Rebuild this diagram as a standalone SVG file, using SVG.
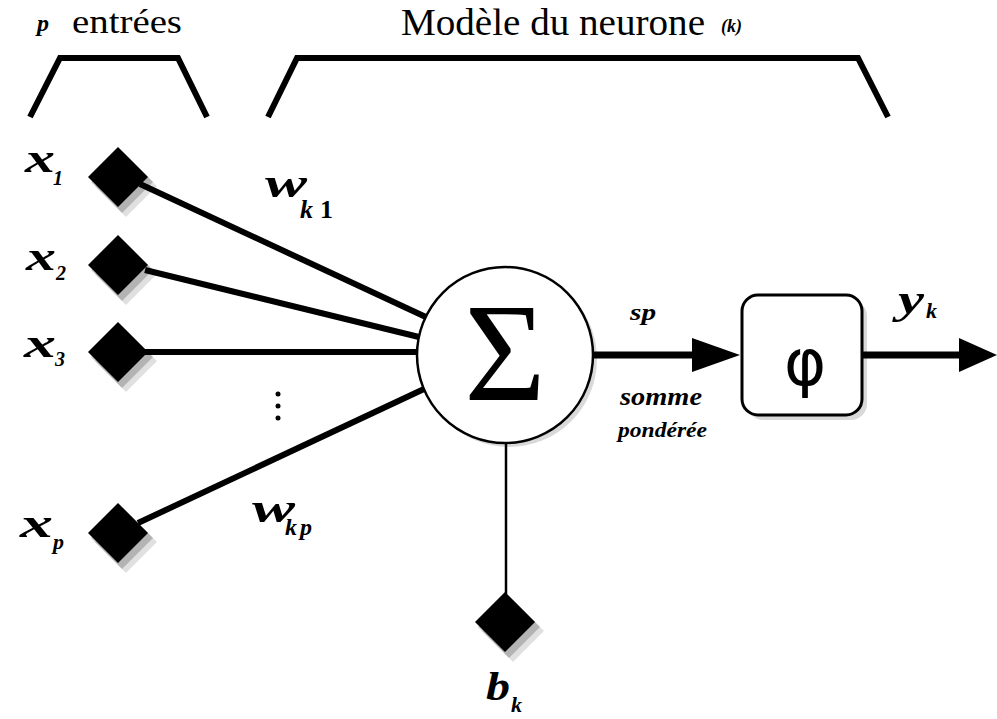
<svg xmlns="http://www.w3.org/2000/svg" width="997" height="719" viewBox="0 0 997 719">
<rect width="997" height="719" fill="#fff"/>
<g id="brackets" fill="none" stroke="#000" stroke-width="6">
<polyline points="30,117 60,58 178,58 207,117"/>
<polyline points="268,117 297,58 858,58 888,117"/>
</g>
<g id="connectors" stroke="#000" stroke-width="6" fill="none">
<line x1="140" y1="184" x2="428" y2="318"/>
<line x1="145" y1="270" x2="419" y2="337"/>
<line x1="140" y1="352" x2="418" y2="352"/>
<line x1="138" y1="523" x2="424" y2="389"/>
<line stroke-width="2.5" x1="506" y1="443" x2="506" y2="595"/>
<line stroke-width="7" x1="593" y1="355" x2="700" y2="355"/>
<polygon points="692,338 740,355 692,372" fill="#000" stroke="none"/>
<line stroke-width="7" x1="862" y1="355" x2="965" y2="355"/>
<polygon points="959,338 997,355 959,372" fill="#000" stroke="none"/>
</g>
<g id="x1">
<polygon points="126,155 157,186 126,217 95,186" fill="#000" opacity="0.12"/>
<polygon points="122,151 153,182 122,213 91,182" fill="#000" opacity="0.2"/>
<polygon points="118,147 148,177 118,207 88,177" fill="#000"/>
</g>
<g id="x2">
<polygon points="126,243 157,274 126,305 95,274" fill="#000" opacity="0.12"/>
<polygon points="122,239 153,270 122,301 91,270" fill="#000" opacity="0.2"/>
<polygon points="118,235 148,265 118,295 88,265" fill="#000"/>
</g>
<g id="x3">
<polygon points="126,330 157,361 126,392 95,361" fill="#000" opacity="0.12"/>
<polygon points="122,326 153,357 122,388 91,357" fill="#000" opacity="0.2"/>
<polygon points="118,322 148,352 118,382 88,352" fill="#000"/>
</g>
<g id="xp">
<polygon points="126,511 157,542 126,573 95,542" fill="#000" opacity="0.12"/>
<polygon points="122,507 153,538 122,569 91,538" fill="#000" opacity="0.2"/>
<polygon points="118,503 148,533 118,563 88,533" fill="#000"/>
</g>
<g id="bk">
<polygon points="513,600 544,631 513,662 482,631" fill="#000" opacity="0.12"/>
<polygon points="509,596 540,627 509,658 478,627" fill="#000" opacity="0.2"/>
<polygon points="505,592 535,622 505,652 475,622" fill="#000"/>
</g>
<g id="sum">
<circle cx="509" cy="359" r="88" fill="#000" opacity="0.15"/>
<circle cx="505" cy="355" r="88" fill="#fff" stroke="#000" stroke-width="2.5"/>
</g>
<g id="phi">
<rect x="747" y="300" width="120" height="120" rx="16" fill="#000" opacity="0.15"/>
<rect x="742" y="295" width="120" height="120" rx="16" fill="#fff" stroke="#000" stroke-width="3"/>
</g>
<g id="dots" fill="#000">
<circle cx="278" cy="394" r="2.5"/><circle cx="278" cy="406" r="2.5"/><circle cx="278" cy="418" r="2.5"/>
</g>
<g font-size="36" fill="#000">
<text x="505" y="400" font-family="Liberation Serif" font-size="140" text-anchor="middle">Σ</text>
<text x="805" y="385" font-family="DejaVu Sans" font-size="64" text-anchor="middle">φ</text>
<text x="37" y="31" font-family="Liberation Serif" font-size="24" font-weight="bold" font-style="italic">p</text>
<text x="72" y="33" font-family="Liberation Serif" font-size="33" textLength="110" lengthAdjust="spacingAndGlyphs">entrées</text>
<text x="401" y="35" font-family="Liberation Serif" font-size="38" textLength="304" lengthAdjust="spacingAndGlyphs">Modèle du neurone</text>
<text x="721" y="32" font-family="Liberation Serif" font-size="18" font-weight="bold" font-style="italic">(k)</text>
<text x="25" y="172" font-family="Liberation Serif" font-weight="bold" font-style="italic" font-size="42" textLength="30" lengthAdjust="spacingAndGlyphs">x</text>
<text x="53" y="185" font-family="Liberation Serif" font-weight="bold" font-style="italic" font-size="20">1</text>
<text x="26" y="270" font-family="Liberation Serif" font-weight="bold" font-style="italic" font-size="42" textLength="30" lengthAdjust="spacingAndGlyphs">x</text>
<text x="56" y="280" font-family="Liberation Serif" font-weight="bold" font-style="italic" font-size="20">2</text>
<text x="24" y="357" font-family="Liberation Serif" font-weight="bold" font-style="italic" font-size="42" textLength="32" lengthAdjust="spacingAndGlyphs">x</text>
<text x="55" y="366" font-family="Liberation Serif" font-weight="bold" font-style="italic" font-size="20">3</text>
<text x="20" y="537" font-family="Liberation Serif" font-weight="bold" font-style="italic" font-size="42" textLength="33" lengthAdjust="spacingAndGlyphs">x</text>
<text x="53" y="549" font-family="Liberation Serif" font-weight="bold" font-style="italic" font-size="22">p</text>
<text x="265" y="197" font-family="Liberation Serif" font-weight="bold" font-style="italic" font-size="42" textLength="42" lengthAdjust="spacingAndGlyphs">w</text>
<text x="300" y="218" font-family="Liberation Serif" font-weight="bold" font-style="italic" font-size="26">k</text>
<text x="320" y="218" font-family="Liberation Serif" font-weight="bold" font-size="26">1</text>
<text x="252" y="522" font-family="Liberation Serif" font-weight="bold" font-style="italic" font-size="42" textLength="43" lengthAdjust="spacingAndGlyphs">w</text>
<text x="285" y="535" font-family="Liberation Serif" font-weight="bold" font-style="italic" font-size="24">k</text>
<text x="300" y="535" font-family="Liberation Serif" font-weight="bold" font-style="italic" font-size="24">p</text>
<text x="898" y="313" font-family="Liberation Serif" font-weight="bold" font-style="italic" font-size="40" textLength="26" lengthAdjust="spacingAndGlyphs">y</text>
<text x="926" y="318" font-family="Liberation Serif" font-weight="bold" font-style="italic" font-size="22">k</text>
<text x="486" y="700" font-family="Liberation Serif" font-weight="bold" font-style="italic" font-size="40" textLength="24" lengthAdjust="spacingAndGlyphs">b</text>
<text x="511" y="712" font-family="Liberation Serif" font-weight="bold" font-style="italic" font-size="22">k</text>
<text x="630" y="320" font-family="Liberation Serif" font-weight="bold" font-style="italic" font-size="24" textLength="26" lengthAdjust="spacingAndGlyphs">sp</text>
<text x="620" y="405" font-family="Liberation Serif" font-weight="bold" font-style="italic" font-size="26" textLength="82" lengthAdjust="spacingAndGlyphs">somme</text>
<text x="618" y="437" font-family="Liberation Serif" font-weight="bold" font-style="italic" font-size="20" textLength="89" lengthAdjust="spacingAndGlyphs">pondérée</text>
</g>
</svg>
